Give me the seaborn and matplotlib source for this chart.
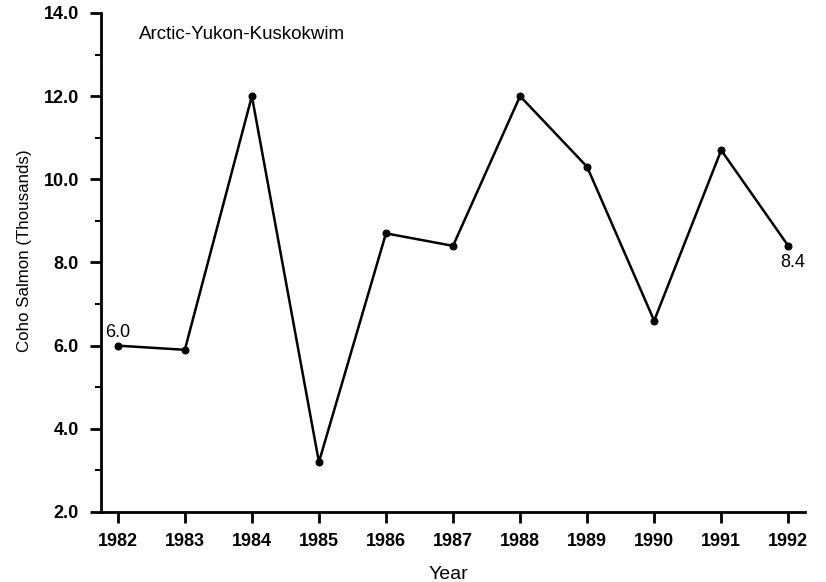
import numpy as np
import pandas as pd
import seaborn as sns
import matplotlib.pyplot as plt
from matplotlib.ticker import MultipleLocator

years = [1982, 1983, 1984, 1985, 1986, 1987, 1988, 1989, 1990, 1991, 1992]
coho = [6.0, 5.9, 12.0, 3.2, 8.7, 8.4, 12.0, 10.3, 6.6, 10.7, 8.4]
region = "Arctic-Yukon-Kuskokwim"

df = pd.DataFrame({"Year": years, "Coho": coho})

sns.set_style("ticks")
plt.rcParams["font.family"] = ["Liberation Sans", "DejaVu Sans"]
plt.rcParams["text.color"] = "black"
plt.rcParams["axes.labelcolor"] = "black"
plt.rcParams["xtick.color"] = "black"
plt.rcParams["ytick.color"] = "black"

fig = plt.figure(figsize=(8.26, 5.82), dpi=100)
ax = fig.add_axes([0.1223, 0.1203, 0.8523, 0.8574])

sns.lineplot(data=df, x="Year", y="Coho", ax=ax, color="black", linewidth=1.8,
             marker="o", markersize=5, markeredgecolor="black")

ax.set_xlim(1981.75, 1992.25)
ax.set_ylim(2.0, 14.0)
ax.set_xticks(years)
ax.set_xticklabels([str(y) for y in years], fontsize=13, fontweight="bold")
ax.yaxis.set_major_locator(MultipleLocator(2.0))
ax.yaxis.set_minor_locator(MultipleLocator(1.0))
ax.set_yticklabels([f"{v:.1f}" for v in ax.get_yticks()], fontsize=13, fontweight="bold")
ax.tick_params(axis="x", which="major", length=8, width=2, color="black", pad=7)
ax.tick_params(axis="y", which="major", length=8, width=2, color="black", pad=8)
ax.tick_params(axis="y", which="minor", length=4.5, width=1.5, color="black")

for side in ["top", "right"]:
    ax.spines[side].set_visible(False)
for side in ["left", "bottom"]:
    ax.spines[side].set_linewidth(2)
    ax.spines[side].set_color("black")

ax.set_xlabel("Year", fontsize=14)
ax.xaxis.set_label_coords(0.494, -0.108)
ax.set_ylabel("Coho Salmon (Thousands)", fontsize=12.2)
ax.yaxis.set_label_coords(-0.098, 0.523)

ax.text(0.054, 0.956, region, transform=ax.transAxes, fontsize=13.5, va="center", ha="left")

ax.annotate(f"{coho[0]:.1f}", (years[0], coho[0]), xytext=(0, 3), textcoords="offset points",
            ha="center", va="bottom", fontsize=13)
ax.annotate(f"{coho[-1]:.1f}", (years[-1], coho[-1]), xytext=(3.5, -6), textcoords="offset points",
            ha="center", va="top", fontsize=13)

fig.savefig("out.png", dpi=100)
